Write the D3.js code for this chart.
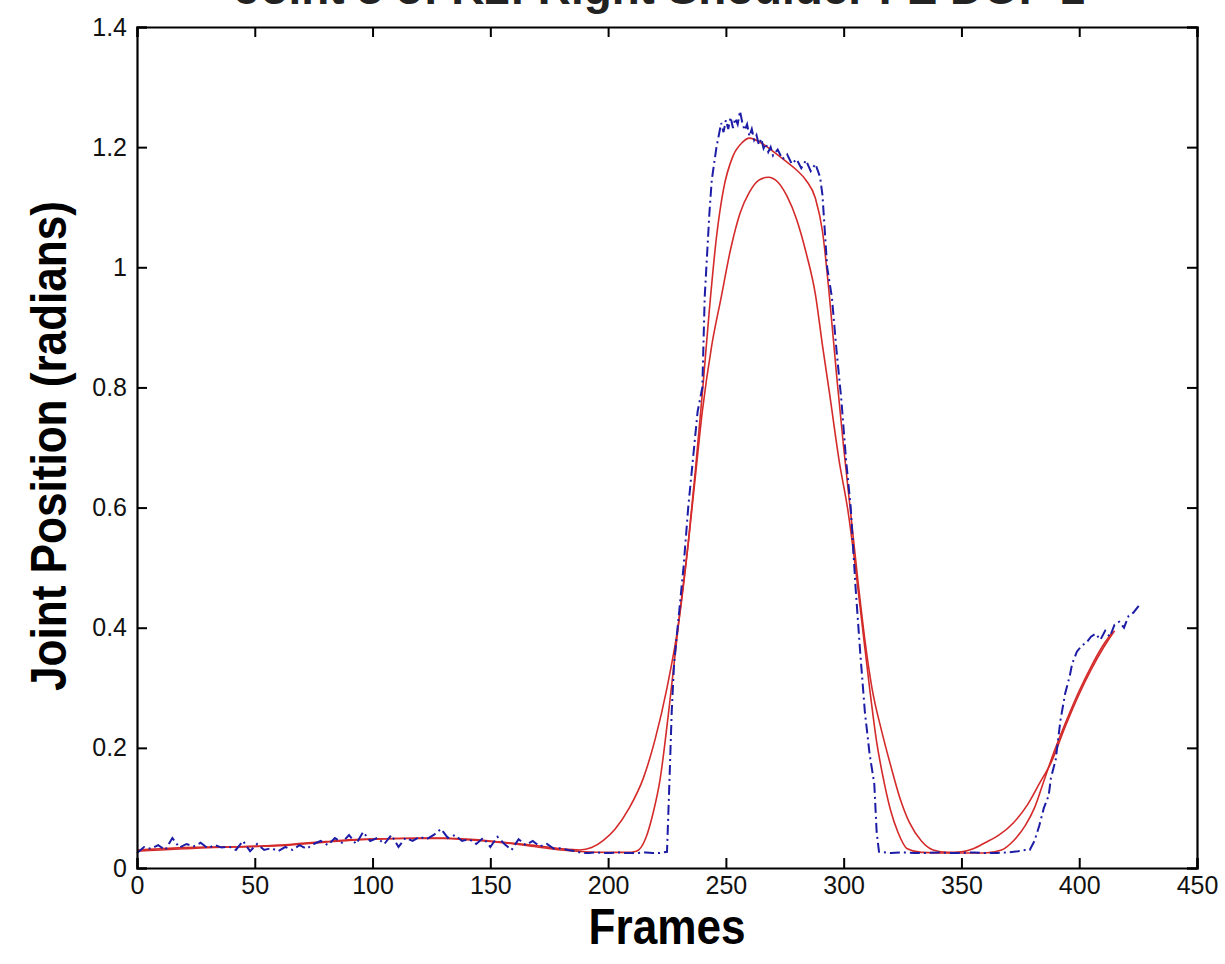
<!DOCTYPE html>
<html>
<head>
<meta charset="utf-8">
<script src="https://cdn.jsdelivr.net/npm/d3@7"></script>
<style>
  body { margin: 0; background: #fff; }
  text { font-family: Arial, "Liberation Sans", sans-serif; }
</style>
</head>
<body>
<svg id="chart" width="1225" height="964"></svg>
<script>
// chart text
var titleText = "Joint 3 of K2: Right Shoulder FE DOF 1";
var xLabel = "Frames";
var yLabel = "Joint Position (radians)";

// tick labels
var xTicks = [0, 50, 100, 150, 200, 250, 300, 350, 400, 450];
var yTicks = [0, 0.2, 0.4, 0.6, 0.8, 1, 1.2, 1.4];

// measured joint position (blue dash-dot), [frame, radians]
var measured = [
  [0,0.025],[3,0.035],[6,0.032],[9,0.038],[12,0.030],[15,0.050],[18,0.034],[21,0.040],[24,0.036],[27,0.042],
  [30,0.033],[33,0.038],[36,0.034],[39,0.036],[42,0.030],[45,0.045],[48,0.028],[51,0.040],[54,0.030],[57,0.033],
  [60,0.028],[63,0.035],[66,0.030],[69,0.038],[72,0.032],[75,0.040],[78,0.045],[81,0.038],[84,0.050],[87,0.042],
  [90,0.055],[93,0.040],[96,0.060],[99,0.045],[102,0.050],[105,0.040],[108,0.055],[111,0.035],[114,0.050],[117,0.045],
  [120,0.052],[123,0.048],[126,0.055],[129,0.065],[132,0.050],[135,0.055],[138,0.045],[141,0.048],[144,0.040],[147,0.050],
  [150,0.035],[153,0.052],[156,0.040],[159,0.030],[162,0.048],[165,0.038],[168,0.045],[171,0.036],[174,0.040],[177,0.032],
  [180,0.033],[183,0.030],[186,0.028],[189,0.025],[192,0.025],[195,0.026],[198,0.025],[201,0.025],[204,0.026],[207,0.025],
  [210,0.025],[213,0.025],[216,0.026],[219,0.025],[222,0.025],[225,0.027],
  [226,0.140],[227,0.260],[228,0.340],[230,0.420],[232,0.500],[234,0.600],[236,0.680],[238,0.760],[240,0.800],
  [241,0.950],[242,1.020],[243,1.090],[244,1.145],[246,1.200],[248,1.240],[249,1.225],[250,1.245],[251,1.230],
  [252,1.250],[253,1.232],[254,1.248],[255,1.238],[256,1.260],[257,1.240],[258,1.228],[259,1.238],[260,1.218],
  [261,1.230],[262,1.212],[263,1.220],[264,1.204],[265,1.214],[266,1.198],[267,1.206],[268,1.192],[269,1.200],
  [270,1.186],[272,1.196],[274,1.180],[276,1.188],[278,1.172],[280,1.180],[282,1.165],[284,1.178],[286,1.160],
  [288,1.172],[290,1.150],[291,1.120],[292,1.060],[293,1.000],[295,0.950],[297,0.860],[299,0.780],[301,0.680],
  [303,0.600],[305,0.470],[307,0.360],[309,0.260],[311,0.190],[313,0.140],[314,0.060],[315,0.027],
  [320,0.025],[325,0.026],[330,0.025],[335,0.025],[340,0.026],[345,0.025],[350,0.025],[355,0.026],[360,0.025],
  [365,0.025],[370,0.026],[374,0.028],[377,0.030],[379,0.030],[381,0.045],[383,0.070],[385,0.100],[387,0.120],
  [388,0.150],[390,0.180],[392,0.245],[394,0.290],[396,0.320],[397,0.340],[399,0.360],[401,0.370],[403,0.375],
  [405,0.385],[407,0.390],[409,0.380],[411,0.395],[413,0.385],[415,0.405],[417,0.410],[419,0.400],[421,0.420],
  [423,0.425],[425,0.435],[426,0.440]
];

// first smoothed estimate (outer red curve)
var smoothA = [
  [0,0.030],[10,0.032],[20,0.034],[30,0.035],[40,0.035],[50,0.036],[60,0.038],[70,0.041],[80,0.044],[90,0.047],
  [100,0.048],[110,0.049],[120,0.050],[130,0.050],[140,0.048],[150,0.045],[160,0.041],[170,0.037],[180,0.032],
  [188,0.030],[193,0.034],[198,0.046],[203,0.065],[209,0.100],[215,0.150],[220,0.215],[225,0.300],[230,0.410],
  [234,0.540],[237,0.660],[240,0.790],[243,0.930],[246,1.050],[249,1.130],[253,1.185],[257,1.208],[260,1.215],
  [265,1.207],[270,1.193],[275,1.178],[280,1.162],[284,1.145],[288,1.115],[291,1.060],[294,0.950],[297,0.820],
  [300,0.700],[303,0.590],[306,0.480],[309,0.380],[312,0.300],[316,0.230],[320,0.170],[324,0.115],[328,0.075],
  [333,0.045],[338,0.030],[344,0.026],[350,0.027],[355,0.032],[360,0.042],[366,0.055],[372,0.075],[378,0.105],
  [383,0.140],[388,0.175],[394,0.235],[400,0.290],[405,0.330],[410,0.365],[415,0.395]
];

// second smoothed estimate (inner red curve)
var smoothB = [
  [0,0.028],[10,0.030],[20,0.032],[30,0.034],[40,0.035],[50,0.036],[60,0.037],[70,0.040],[80,0.043],[90,0.046],
  [100,0.048],[110,0.049],[120,0.049],[130,0.049],[140,0.047],[150,0.044],[160,0.040],[170,0.035],[180,0.030],
  [190,0.027],[200,0.026],[208,0.026],[212,0.028],[216,0.050],[219,0.090],[222,0.146],[226,0.270],[230,0.410],
  [234,0.540],[237,0.650],[240,0.760],[244,0.870],[248,0.950],[252,1.030],[256,1.090],[260,1.125],[264,1.145],
  [268,1.150],[272,1.142],[276,1.118],[280,1.080],[284,1.025],[288,0.955],[291,0.870],[294,0.790],[298,0.680],
  [302,0.590],[305,0.500],[308,0.400],[311,0.300],[314,0.210],[317,0.146],[320,0.095],[323,0.060],[327,0.032],
  [333,0.026],[345,0.025],[360,0.025],[367,0.030],[372,0.045],[377,0.070],[381,0.100],[385,0.145],[389,0.190],
  [394,0.240],[400,0.295],[405,0.335],[410,0.370],[414,0.392]
];

var svg = d3.select("#chart");

// plot box in pixels
var plotLeft = 137, plotRight = 1197, plotTop = 27, plotBottom = 868;

var x = d3.scaleLinear().domain([0, 450]).range([plotLeft, plotRight]);
var y = d3.scaleLinear().domain([0, 1.4]).range([plotBottom, plotTop]);

var line = d3.line()
    .x(function(d){ return x(d[0]); })
    .y(function(d){ return y(d[1]); });

var smoothLine = d3.line()
    .curve(d3.curveMonotoneX)
    .x(function(d){ return x(d[0]); })
    .y(function(d){ return y(d[1]); });

// title, mostly cropped off the top like the original
svg.append("text")
    .attr("x", 660)
    .attr("y", 4)
    .attr("text-anchor", "middle")
    .attr("textLength", 850)
    .attr("lengthAdjust", "spacingAndGlyphs")
    .attr("fill", "#222")
    .style("font-size", "46px")
    .style("font-weight", "bold")
    .text(titleText);

// data lines
svg.append("path")
    .datum(smoothA)
    .attr("d", smoothLine)
    .attr("fill", "none")
    .attr("stroke", "#d42a2a")
    .attr("stroke-width", 1.6);

svg.append("path")
    .datum(smoothB)
    .attr("d", smoothLine)
    .attr("fill", "none")
    .attr("stroke", "#d42a2a")
    .attr("stroke-width", 1.6);

svg.append("path")
    .datum(measured)
    .attr("d", line)
    .attr("fill", "none")
    .attr("stroke", "#1c1ca6")
    .attr("stroke-width", 2)
    .attr("stroke-dasharray", "10,4,2,4");

// axes, ticks pointing inward on all four sides
var axisColor = "#000";

var gx = svg.append("g")
    .attr("transform", "translate(0," + plotBottom + ")")
    .call(d3.axisBottom(x).tickValues(xTicks).tickSize(-10).tickPadding(8).tickFormat(d3.format("d")));

var gxTop = svg.append("g")
    .attr("transform", "translate(0," + plotTop + ")")
    .call(d3.axisTop(x).tickValues(xTicks).tickSize(-10).tickFormat(""));

var gy = svg.append("g")
    .attr("transform", "translate(" + plotLeft + ",0)")
    .call(d3.axisLeft(y).tickValues(yTicks).tickSize(-10).tickPadding(10).tickFormat(function(d){ return String(d); }));

var gyRight = svg.append("g")
    .attr("transform", "translate(" + plotRight + ",0)")
    .call(d3.axisRight(y).tickValues(yTicks).tickSize(-10).tickFormat(""));

[gx, gxTop, gy, gyRight].forEach(function(g){
    g.select(".domain").attr("stroke", axisColor).attr("stroke-width", 2.2);
    g.selectAll(".tick line").attr("stroke", axisColor).attr("stroke-width", 2);
    g.selectAll(".tick text")
        .attr("fill", "#111")
        .style("font-size", "25px")
        .style("font-family", "Arial, 'Liberation Sans', sans-serif");
});
gx.selectAll(".tick text").attr("dy", "0.71em");

// axis labels
svg.append("text")
    .attr("x", 667)
    .attr("y", 944)
    .attr("text-anchor", "middle")
    .attr("textLength", 157)
    .attr("lengthAdjust", "spacingAndGlyphs")
    .style("font-size", "50px")
    .style("font-weight", "bold")
    .text(xLabel);

svg.append("text")
    .attr("transform", "translate(66,446) rotate(-90)")
    .attr("text-anchor", "middle")
    .attr("textLength", 490)
    .attr("lengthAdjust", "spacingAndGlyphs")
    .style("font-size", "50px")
    .style("font-weight", "bold")
    .text(yLabel);
</script>
</body>
</html>
